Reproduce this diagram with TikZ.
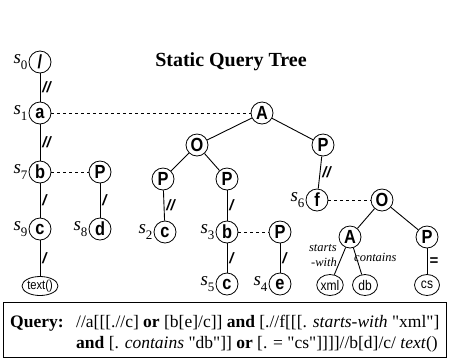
\documentclass[tikz,border=0pt]{standalone}
\usepackage{fontspec}
\setmainfont{Liberation Serif}
\setsansfont{Liberation Sans}
\newfontfamily\nodefont[FakeStretch=0.86]{Liberation Sans}
\usetikzlibrary{shapes.geometric}
\newcommand{\slab}[1]{{\fontsize{19}{19}\selectfont\itshape s}\raisebox{-6pt}{\fontsize{13}{13}\selectfont #1}}
\newcommand{\dq}{\textquotedbl}
\begin{document}
\begin{tikzpicture}[x=1pt,y=-1pt,
  qn/.style={circle,draw,line width=0.8pt,minimum size=22pt,inner sep=0pt,font=\nodefont\bfseries\fontsize{19}{19}\selectfont},
  leaf/.style={ellipse,draw,line width=0.8pt,minimum width=25pt,minimum height=21pt,inner sep=0pt,font=\nodefont\fontsize{14}{14}\selectfont},
  tedge/.style={line width=0.9pt},
  lnk/.style={dashed,line width=0.8pt},
  el/.style={right,inner sep=2pt,font=\sffamily\bfseries\itshape\fontsize{15}{15}\selectfont},
  sl/.style={anchor=east,inner sep=1pt},
  kw/.style={font=\itshape\fontsize{12.5}{12.5}\selectfont,inner sep=0pt},
  qt/.style={anchor=base west,inner sep=0pt,font=\fontsize{17.5}{17.5}\selectfont}
]
\useasboundingbox (0,0) rectangle (449,360);

% title
\node[font=\bfseries\fontsize{20}{20}\selectfont] (title) at (231,62) {Static Query Tree};

% left tree
\node[qn] (root) at (40,62) {/};
\node[qn] (a) at (40,113) {a};
\node[qn] (b) at (40,172) {b};
\node[qn] (pb) at (100,172) {P};
\node[qn] (c) at (40,229) {c};
\node[qn] (d) at (100,229) {d};
\node[leaf,minimum width=35pt,minimum height=19pt,font=\nodefont\fontsize{13}{13}\selectfont] (txt) at (40,286) {text()};

% predicate tree
\node[qn] (A) at (262,113) {A};
\node[qn] (O) at (197,145) {O};
\node[qn] (PR) at (323,145) {P};
\node[qn] (P1) at (163,179) {P};
\node[qn] (P2) at (227,179) {P};
\node[qn] (c2) at (165,232) {c};
\node[qn] (b3) at (227,232) {b};
\node[qn] (pe) at (280,232) {P};
\node[qn] (c5) at (227,284) {c};
\node[qn] (e) at (280,284) {e};
\node[qn] (f) at (317,200) {f};
\node[qn] (O2) at (382,200) {O};
\node[qn] (A2) at (350,237) {A};
\node[qn] (P3) at (427,237) {P};
\node[leaf] (xml) at (330,285) {xml};
\node[leaf] (db) at (365,285) {db};
\node[leaf] (cs) at (427,285) {cs};

% state labels
\node[sl] at (root.west) {\slab{0}};
\node[sl] at (a.west) {\slab{1}};
\node[sl] at (b.west) {\slab{7}};
\node[sl] at (c.west) {\slab{9}};
\node[sl] at (d.west) {\slab{8}};
\node[sl] at (c2.west) {\slab{2}};
\node[sl] at (b3.west) {\slab{3}};
\node[sl] at (c5.west) {\slab{5}};
\node[sl] at (e.west) {\slab{4}};
\node[sl] at (f.west) {\slab{6}};

% edges
\draw[tedge] (root) -- node[el] {//} (a);
\draw[tedge] (a) -- node[el] {//} (b);
\draw[tedge] (b) -- node[el] {/} (c);
\draw[tedge] (pb) -- node[el] {/} (d);
\draw[tedge] (c) -- node[el] {/} (txt);
\draw[tedge] (A) -- (O);
\draw[tedge] (A) -- (PR);
\draw[tedge] (O) -- (P1);
\draw[tedge] (O) -- (P2);
\draw[tedge] (P1) -- node[el] {//} (c2);
\draw[tedge] (P2) -- node[el] {/} (b3);
\draw[tedge] (b3) -- node[el] {/} (c5);
\draw[tedge] (pe) -- node[el] {/} (e);
\draw[tedge] (PR) -- node[el] {//} (f);
\draw[tedge] (O2) -- (A2);
\draw[tedge] (O2) -- (P3);
\draw[tedge] (A2) -- (xml);
\draw[tedge] (A2) -- (db);
\draw[tedge] (P3) -- node[el] {=} (cs);

% dashed links
\draw[lnk] (a) -- (A);
\draw[lnk] (b) -- (pb);
\draw[lnk] (b3) -- (pe);
\draw[lnk] (f) -- (O2);

% keyword labels
\node[kw,anchor=east] (sw1) at (337,248) {starts};
\node[kw,anchor=east] (sw2) at (337,262) {-with};
\node[kw,anchor=west] (cont) at (354,257) {contains};

% query box
\draw[line width=0.8pt] (3,302) rectangle (446,357);
\node[qt] (q1) at (10,327) {\textbf{Query:}};
\node[qt] (q2) at (76,327) {//a[[[.//c] \textbf{or} [b[e]/c]] \textbf{and} [.//f[[[. \textit{starts-with} \dq xml\dq]};
\node[qt] (q3) at (76,348) {\textbf{and} [. \textit{contains} \dq db\dq]] \textbf{or} [. = \dq cs\dq]]]]//b[d]/c/ \textit{text}()};
\end{tikzpicture}
\end{document}
